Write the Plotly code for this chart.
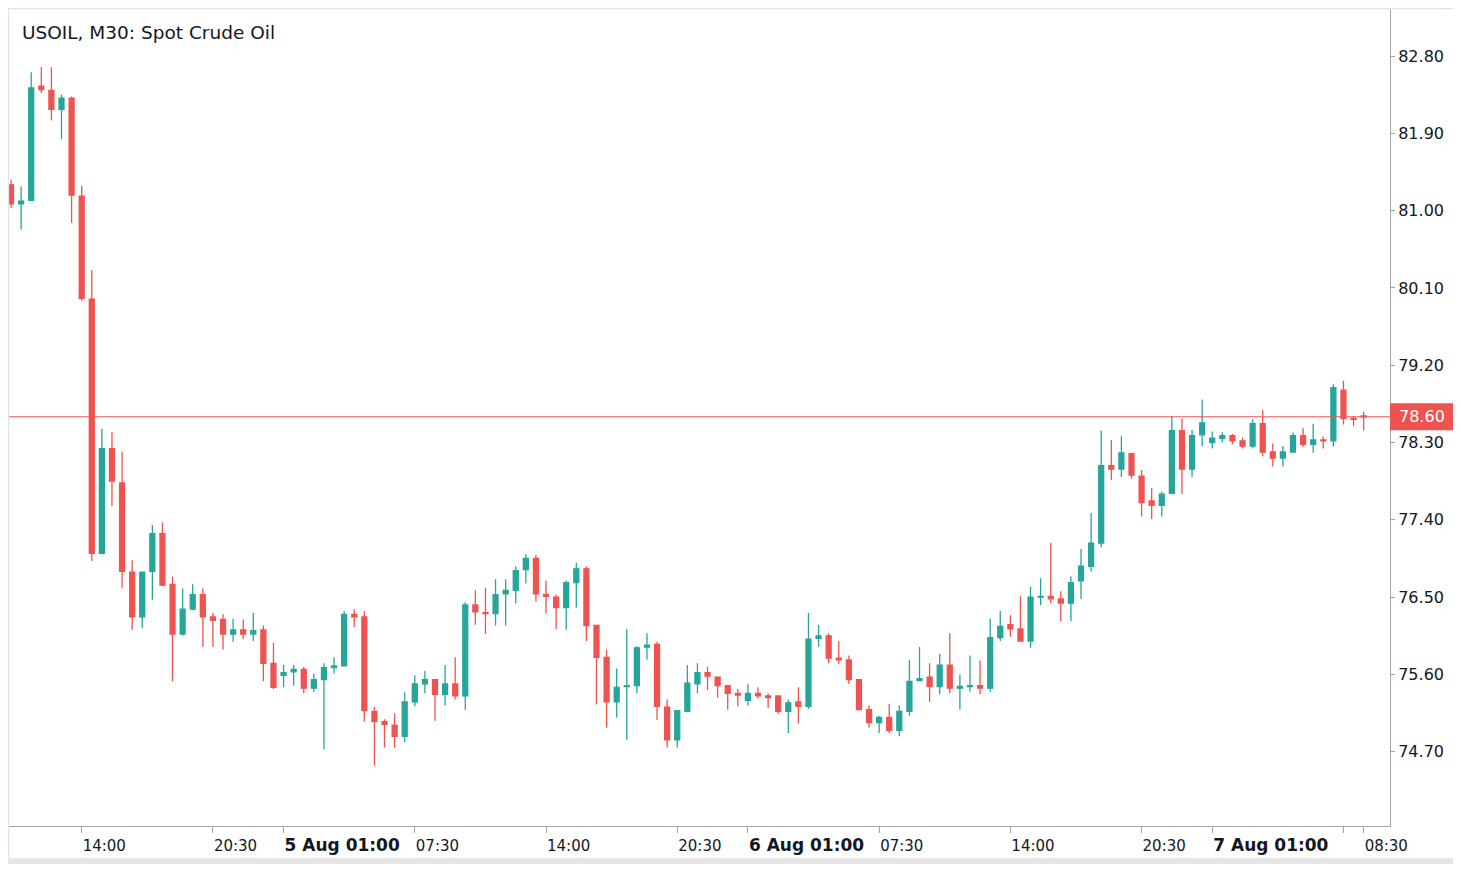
import plotly.graph_objects as go

# ---- data (USOIL M30) ----
opens = [81.30, 81.08, 81.12, 82.45, 82.40, 82.18, 82.31, 81.17, 79.97, 77.01,
         78.23, 77.83, 76.79, 76.27, 76.80, 77.24, 76.65, 76.07, 76.36, 76.53,
         76.27, 76.24, 76.07, 76.12, 76.07, 76.12, 75.73, 75.59, 75.63, 75.66,
         75.44, 75.54, 75.68, 75.70, 76.30, 76.27, 75.17, 75.05, 75.01, 74.88,
         75.28, 75.49, 75.54, 75.37, 75.49, 75.35, 76.41, 76.32, 76.31, 76.54,
         76.58, 76.82, 76.95, 76.53, 76.50, 76.38, 76.67, 76.83, 76.17, 75.80,
         75.28, 75.46, 75.47, 75.92, 75.95, 75.22, 74.84, 75.17, 75.49, 75.62,
         75.57, 75.47, 75.38, 75.30, 75.38, 75.35, 75.35, 75.17, 75.28, 75.23,
         76.02, 76.05, 75.79, 75.77, 75.54, 75.19, 75.04, 75.10, 74.95, 75.17,
         75.53, 75.57, 75.46, 75.71, 75.44, 75.46, 75.47, 75.44, 76.03, 76.18,
         76.13, 75.99, 76.50, 76.51, 76.48, 76.43, 76.69, 76.86, 77.13, 78.03,
         77.99, 78.17, 77.91, 77.62, 77.57, 77.71, 78.44, 77.99, 78.39, 78.30,
         78.35, 78.38, 78.32, 78.26, 78.52, 78.19, 78.12, 78.19, 78.38, 78.28,
         78.33, 78.32, 78.91, 78.58, 78.61]
highs = [81.36, 81.28, 82.61, 82.67, 82.67, 82.35, 82.33, 81.29, 80.31, 78.46,
         78.42, 78.19, 76.93, 76.79, 77.34, 77.37, 76.74, 76.60, 76.65, 76.60,
         76.32, 76.30, 76.25, 76.24, 76.32, 76.17, 75.97, 75.71, 75.71, 75.69,
         75.61, 75.73, 75.80, 76.34, 76.36, 76.34, 75.22, 75.08, 75.15, 75.39,
         75.59, 75.64, 75.54, 75.71, 75.80, 76.44, 76.58, 76.61, 76.71, 76.71,
         76.86, 77.00, 76.99, 76.69, 76.53, 76.69, 76.90, 76.86, 76.18, 75.89,
         75.67, 76.13, 75.93, 76.08, 75.98, 75.31, 75.18, 75.71, 75.73, 75.69,
         75.58, 75.47, 75.43, 75.49, 75.45, 75.38, 75.35, 75.31, 75.45, 76.32,
         76.18, 76.08, 75.99, 75.82, 75.54, 75.24, 75.12, 75.26, 75.24, 75.77,
         75.92, 75.73, 75.84, 76.08, 75.60, 75.82, 75.76, 76.25, 76.34, 76.29,
         76.51, 76.62, 76.72, 77.13, 76.57, 76.74, 77.06, 77.48, 78.44, 78.33,
         78.38, 78.18, 77.98, 77.77, 77.73, 78.61, 78.58, 78.45, 78.80, 78.43,
         78.42, 78.40, 78.36, 78.57, 78.68, 78.29, 78.26, 78.42, 78.47, 78.52,
         78.37, 78.98, 79.02, 78.61, 78.66]
lows = [81.03, 80.78, 81.11, 82.37, 82.05, 81.83, 80.86, 79.95, 76.92, 77.00,
        77.56, 76.61, 76.12, 76.14, 76.47, 76.63, 75.52, 76.05, 76.35, 75.92,
        75.92, 75.89, 75.98, 76.01, 75.99, 75.52, 75.43, 75.45, 75.47, 75.38,
        75.40, 74.73, 75.61, 75.70, 76.15, 75.05, 74.54, 74.75, 74.75, 74.81,
        75.23, 75.38, 75.06, 75.24, 75.31, 75.19, 76.18, 76.07, 76.17, 76.17,
        76.43, 76.66, 76.45, 76.31, 76.13, 76.12, 76.38, 75.99, 75.25, 74.98,
        75.10, 74.84, 75.38, 75.77, 75.07, 74.75, 74.75, 75.16, 75.38, 75.42,
        75.33, 75.19, 75.23, 75.24, 75.32, 75.21, 75.14, 74.92, 75.03, 75.20,
        75.92, 75.73, 75.72, 75.49, 75.19, 74.98, 74.92, 74.92, 74.88, 75.12,
        75.52, 75.28, 75.37, 75.38, 75.19, 75.40, 75.37, 75.40, 75.99, 76.04,
        75.98, 75.91, 76.41, 76.43, 76.22, 76.22, 76.48, 76.80, 77.08, 77.86,
        77.90, 77.88, 77.44, 77.41, 77.44, 77.70, 77.70, 77.90, 78.26, 78.23,
        78.30, 78.28, 78.23, 78.23, 78.14, 78.02, 78.02, 78.19, 78.25, 78.18,
        78.23, 78.25, 78.51, 78.49, 78.44]
closes = [81.08, 81.11, 82.43, 82.41, 82.18, 82.31, 81.18, 79.98, 77.01, 78.23,
          77.85, 76.80, 76.27, 76.79, 77.24, 76.64, 76.07, 76.36, 76.53, 76.27,
          76.23, 76.07, 76.12, 76.07, 76.11, 75.73, 75.45, 75.62, 75.66, 75.44,
          75.54, 75.68, 75.70, 76.30, 76.27, 75.18, 75.05, 75.02, 74.88, 75.28,
          75.49, 75.54, 75.37, 75.49, 75.35, 76.41, 76.33, 76.31, 76.53, 76.58,
          76.81, 76.95, 76.54, 76.51, 76.38, 76.67, 76.83, 76.17, 75.80, 75.28,
          75.45, 75.47, 75.91, 75.94, 75.23, 74.84, 75.18, 75.50, 75.62, 75.58,
          75.47, 75.38, 75.36, 75.38, 75.35, 75.33, 75.17, 75.27, 75.23, 76.01,
          76.05, 75.79, 75.77, 75.54, 75.19, 75.04, 75.10, 74.95, 75.17, 75.52,
          75.55, 75.46, 75.71, 75.44, 75.46, 75.47, 75.44, 76.03, 76.16, 76.13,
          75.99, 76.50, 76.51, 76.48, 76.43, 76.67, 76.86, 77.13, 78.03, 77.99,
          78.18, 77.92, 77.60, 77.57, 77.70, 78.44, 77.99, 78.38, 78.53, 78.35,
          78.38, 78.32, 78.26, 78.52, 78.19, 78.12, 78.19, 78.38, 78.28, 78.33,
          78.32, 78.94, 78.58, 78.57, 78.60]

bar_index = list(range(len(opens)))

x_tick_bars = [7, 20, 27, 40, 53, 66, 73, 86, 99, 112, 119, 132, 134]
x_tick_labels = ["14:00", "20:30", "5 Aug 01:00", "07:30", "14:00", "20:30",
                 "6 Aug 01:00", "07:30", "14:00", "20:30", "7 Aug 01:00",
                 "", "08:30"]
bold_labels = {"5 Aug 01:00", "6 Aug 01:00", "7 Aug 01:00"}
y_tick_values = [74.70, 75.60, 76.50, 77.40, 78.30, 79.20, 80.10, 81.00, 81.90, 82.80]
last_price = 78.60
title_text = "USOIL, M30: Spot Crude Oil"

UP = "#26a69a"
DOWN = "#ef5350"
AXIS = "#a3a3a3"
TXT = "#131722"
FONT = "DejaVu Sans"

tick_text = [f'<span style="font-size:17px"><b>{t}</b></span>' if t in bold_labels else t
             for t in x_tick_labels]

fig = go.Figure(go.Candlestick(
    x=bar_index, open=opens, high=highs, low=lows, close=closes,
    increasing=dict(line=dict(color=UP, width=1.3), fillcolor=UP),
    decreasing=dict(line=dict(color=DOWN, width=1.3), fillcolor=DOWN),
    whiskerwidth=0, hoverinfo="skip", showlegend=False,
))

# page body has an 8px margin: figure origin sits at screen (8, 8)
OFF = 8
W, H = 1461 - OFF, 871 - OFF
L, T = 8 - OFF, 8 - OFF
R = 1461 - 1390          # plot right edge at screen x=1390
B = 871 - 826            # plot bottom edge at screen y=826
pw = W - L - R
ph = H - T - B

def px_x(sx):
    return (sx - OFF - L) / pw

def px_y(sy):
    return (H - B - (sy - OFF)) / ph

fig.update_layout(
    width=W, height=H,
    margin=dict(l=L, r=R, t=T, b=B, autoexpand=False),
    paper_bgcolor="white", plot_bgcolor="white",
    font=dict(family=FONT, color=TXT),
    boxgap=0.3,
    xaxis=dict(
        range=[-0.3, 136.61], rangeslider=dict(visible=False),
        showgrid=False, zeroline=False, automargin=False,
        tickmode="array", tickvals=x_tick_bars, ticktext=tick_text,
        tickangle=0,
        ticks="outside", ticklen=6, tickcolor=AXIS, tickwidth=1,
        ticklabelposition="outside right", ticklabelstandoff=6,
        showline=True, linecolor=AXIS, linewidth=1,
        tickfont=dict(family=FONT, size=15, color=TXT),
    ),
    yaxis=dict(
        side="right", range=[73.836, 83.359], automargin=False,
        showgrid=False, zeroline=False,
        tickmode="array", tickvals=y_tick_values,
        ticktext=[f"{v:.2f}" for v in y_tick_values],
        ticks="outside", ticklen=4, tickcolor=AXIS, tickwidth=1,
        showline=True, linecolor=AXIS, linewidth=1,
        tickfont=dict(family=FONT, size=16, color=TXT),
    ),
)

shapes = [
    # last price line
    dict(type="line", xref="paper", yref="y", x0=0, x1=1, y0=last_price, y1=last_price,
         line=dict(color=DOWN, width=1)),
    # last price label box
    dict(type="rect", xref="paper", yref="y", x0=1.0, x1=px_x(1453),
         y0=last_price - 0.157, y1=last_price + 0.157, fillcolor=DOWN, line=dict(width=0)),
    # frame lines
    dict(type="line", xref="paper", yref="paper", x0=px_x(8), x1=px_x(1455),
         y0=px_y(8.6), y1=px_y(8.6), line=dict(color="#e0e3eb", width=1.2)),
    dict(type="line", xref="paper", yref="paper", x0=px_x(8.6), x1=px_x(8.6),
         y0=px_y(858), y1=px_y(8), line=dict(color="#e0e3eb", width=1.2)),
    dict(type="rect", xref="paper", yref="paper", x0=px_x(8), x1=px_x(1457),
         y0=px_y(864), y1=px_y(858), fillcolor="#e6e6e6", line=dict(width=0)),
    dict(type="rect", xref="paper", yref="paper", x0=px_x(1454), x1=px_x(1461),
         y0=px_y(864), y1=px_y(8), fillcolor="#e9e9e9", line=dict(width=0)),
    dict(type="rect", xref="paper", yref="paper", x0=px_x(1456), x1=px_x(1461),
         y0=px_y(137), y1=px_y(72), fillcolor="#eef4fb", line=dict(width=0)),
]
fig.update_layout(shapes=shapes)

fig.add_annotation(
    x=px_x(20), y=px_y(32), xref="paper", yref="paper", xanchor="left", yanchor="middle",
    text=title_text, showarrow=False, font=dict(family=FONT, size=18.5, color=TXT),
)
fig.add_annotation(
    x=px_x(1397), y=last_price, xref="paper", yref="y", xanchor="left", yanchor="middle",
    text=f"{last_price:.2f}", showarrow=False, font=dict(family=FONT, size=16, color="white"),
)

fig.write_html("out.html")
